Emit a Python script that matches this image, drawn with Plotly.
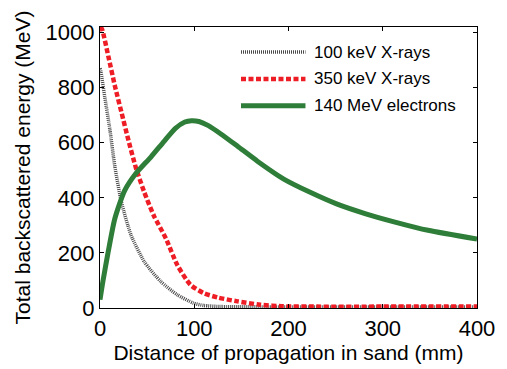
import plotly.graph_objects as go

# ---- data ----
x_gray = [0, 1, 5, 10.5, 15.7, 22.7, 33, 47, 64.5, 82, 99, 110, 130, 180, 400]
y_gray = [870, 857, 767, 647, 515, 385, 264, 168, 96, 48, 18, 9, 5, 4, 4]

x_red = [0, 2, 9, 16, 23, 30, 38, 47, 57, 70, 82, 96, 110, 125, 146, 170, 195, 230, 300, 400]
y_red = [1020, 1013, 911, 803, 707, 611, 510, 420, 336, 252, 156, 84, 54, 38, 24, 12, 6, 5, 5, 5]

x_green = [0, 3, 8.7, 15.7, 26, 38, 54, 68, 80, 90, 97, 105, 115, 129, 146, 167, 195, 223, 251, 282, 313, 348, 400]
y_green = [30, 95, 204, 324, 425, 488, 548, 605, 652, 675, 680, 677, 662, 630, 587, 533, 468, 420, 378, 342, 312, 282, 250]

names = ["100 keV X-rays", "350 keV X-rays", "140 MeV electrons"]
x_ticks = [0, 100, 200, 300, 400]
y_ticks = [0, 200, 400, 600, 800, 1000]

FONT = "Liberation Sans, Arial, sans-serif"
c_gray, c_red, c_green = "#4a4a4a", "#ee1c24", "#2e7d38"
styles = [
    dict(color=c_gray, width=3.5, dash="1px,1px"),
    dict(color=c_red, width=4.5, dash="5px,2.5px"),
    dict(color=c_green, width=5, dash="solid"),
]

fig = go.Figure()
for xs, ys, nm, st in zip([x_gray, x_red, x_green], [y_gray, y_red, y_green], names, styles):
    fig.add_trace(go.Scatter(x=xs, y=ys, mode="lines", name=nm,
                             line=dict(shape="spline", smoothing=0.6, **st),
                             showlegend=False))

# manual legend (long line samples like the reference)
leg_y = [0.911, 0.815, 0.720]
for nm, st, yy in zip(names, styles, leg_y):
    fig.add_shape(type="line", xref="paper", yref="paper", x0=0.374, x1=0.545, y0=yy, y1=yy,
                  line=dict(color=st["color"], width=st["width"], dash=st["dash"]))
    fig.add_annotation(xref="paper", yref="paper", x=0.563, y=yy, text=nm, showarrow=False,
                       xanchor="left", yanchor="middle", font=dict(size=17, color="black", family=FONT))

axis_common = dict(showgrid=False, zeroline=False, showline=True, linecolor="black", linewidth=1.3,
                   mirror="ticks", ticks="inside", ticklen=4, tickwidth=1, tickcolor="black",
                   tickfont=dict(size=22, color="black", family=FONT))

fig.update_xaxes(range=[0, 400], tickvals=x_ticks, ticktext=[str(v) for v in x_ticks],
                 title=dict(text="Distance of propagation in sand (mm)", font=dict(size=21, color="black", family=FONT), standoff=2),
                 **axis_common)
fig.update_yaxes(range=[0, 1020], tickvals=y_ticks, ticktext=[str(v) for v in y_ticks],
                 title=dict(text="Total backscattered energy (MeV)", font=dict(size=21, color="black", family=FONT), standoff=9),
                 **axis_common)

fig.update_layout(width=507, height=369, margin=dict(l=100, r=25, t=27, b=59),
                  paper_bgcolor="white", plot_bgcolor="white", font=dict(family=FONT, color="black"))

fig.write_html("out.html")
